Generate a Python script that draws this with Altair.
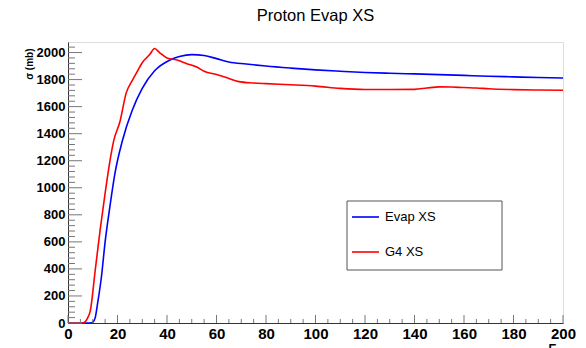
import altair as alt
import pandas as pd

# Evaporation-model cross section (blue)
evap_e = [0, 9, 10, 11, 12, 13.5, 15, 17, 19, 22, 26, 30, 35, 41, 45, 50, 55, 60, 65,
          72, 80, 90, 100, 110, 120, 130, 140, 150, 160, 170, 180, 190, 200]
evap_xs = [0, 0, 5, 40, 150, 340, 600, 870, 1110, 1350, 1575, 1735, 1865, 1943, 1970, 1985,
           1978, 1955, 1930, 1915, 1900, 1885, 1872, 1862, 1853, 1847, 1842, 1837, 1831,
           1825, 1820, 1815, 1812]

# Geant4 cross section (red)
g4_e = [0, 6, 7, 8, 9, 11, 13, 15, 17, 18.5, 21, 23.5, 26, 28, 30, 33, 35, 37, 40, 44, 48,
        52, 55, 60, 64, 69, 75, 80, 90, 100, 110, 120, 130, 140, 145, 150, 155, 160, 165,
        170, 180, 190, 200]
g4_xs = [0, 0, 10, 40, 90, 390, 690, 960, 1205, 1350, 1490, 1700, 1795, 1860, 1925, 1985,
         2030, 2000, 1960, 1945, 1918, 1893, 1862, 1837, 1815, 1785, 1775, 1770, 1762, 1752,
         1735, 1727, 1727, 1728, 1738, 1746, 1745, 1741, 1738, 1732, 1726, 1723, 1721]

series_names = ["Evap XS", "G4 XS"]
series_colors = ["#0000ff", "#ff0000"]

x_major = [0, 20, 40, 60, 80, 100, 120, 140, 160, 180, 200]
x_minor = [v for v in range(0, 201, 5) if v % 20]
y_major = [0, 200, 400, 600, 800, 1000, 1200, 1400, 1600, 1800, 2000]
y_minor = [v for v in range(0, 2041, 40) if v % 200]

W, H = 495, 281
FONT = "Liberation Sans"

df = pd.concat([
    pd.DataFrame({"E": evap_e, "xs": evap_xs, "series": series_names[0], "order": 0}),
    pd.DataFrame({"E": g4_e, "xs": g4_xs, "series": series_names[1], "order": 1}),
])

xscale = alt.Scale(domain=[0, 200], nice=False, zero=False)
yscale = alt.Scale(domain=[0, 2078], nice=False)
cscale = alt.Scale(domain=series_names, range=series_colors)

axis_style = dict(ticks=False, grid=False, labelPadding=3, format="d", labelFlush=False,
                  labelFont=FONT, labelFontWeight="bold", labelColor="black",
                  titleFont=FONT, titleFontWeight="bold", titleColor="black",
                  domainColor="#333", domainWidth=1)
x_axis = alt.Axis(values=x_major, title="E", labelFontSize=15, titleX=488, titleY=20,
                  titleAlign="right", titleBaseline="top", titleFontSize=12, **axis_style)
y_axis = alt.Axis(values=y_major, title="σ (mb)", labelFontSize=13, titleAngle=-90,
                  titleX=-36, titleY=6, titleAlign="right", titleBaseline="alphabetic",
                  titleFontSize=10, **axis_style)

lines = alt.Chart(df).mark_line(strokeWidth=1.6, interpolate="monotone").encode(
    x=alt.X("E:Q", scale=xscale, axis=x_axis),
    y=alt.Y("xs:Q", scale=yscale, axis=y_axis),
    color=alt.Color("series:N", scale=cscale, legend=None),
    detail="series:N",
    order="order:Q",
)

def ticks_x(vals, length):
    return alt.Chart(pd.DataFrame({"v": vals})).mark_rule(color="#777", strokeWidth=1).encode(
        x=alt.X("v:Q", scale=xscale, axis=x_axis),
        y=alt.value(H), y2=alt.value(H - length))

def ticks_y(vals, length):
    return alt.Chart(pd.DataFrame({"v": vals})).mark_rule(color="#777", strokeWidth=1).encode(
        y=alt.Y("v:Q", scale=yscale, axis=y_axis),
        x=alt.value(0), x2=alt.value(length))

# Legend box drawn inside the frame
leg_df = pd.DataFrame({"series": series_names})
box = alt.Chart(pd.DataFrame({"k": [0]})).mark_rect(
    fill="white", stroke="#555", strokeWidth=1).encode(
    x=alt.value(279), x2=alt.value(434), y=alt.value(159), y2=alt.value(228))

leg_layers = [box]
for name, ypos in zip(series_names, [175, 210]):
    sub = alt.Chart(leg_df).transform_filter(alt.datum.series == name)
    leg_layers.append(sub.mark_rule(strokeWidth=1.6).encode(
        x=alt.value(284), x2=alt.value(311), y=alt.value(ypos),
        color=alt.Color("series:N", scale=cscale, legend=None)))
    leg_layers.append(sub.mark_text(align="left", baseline="middle", font=FONT,
                                    fontSize=13, color="black").encode(
        x=alt.value(317), y=alt.value(ypos), text="series:N"))

chart = alt.layer(
    lines,
    ticks_x(x_minor, 4), ticks_x(x_major, 8),
    ticks_y(y_minor, 7), ticks_y(y_major, 14),
    *leg_layers,
).properties(
    width=W, height=H,
    title=alt.TitleParams("Proton Evap XS", anchor="middle", font=FONT, fontSize=16.5,
                          fontWeight="normal", color="black", baseline="alphabetic",
                          frame="group", offset=5),
    autosize=alt.AutoSizeParams(type="none"),
    padding={"left": 68, "top": 42, "right": 23, "bottom": 25},
).configure_view(
    stroke="#666", strokeWidth=1
).configure(background="white")

chart.save("out.html", embed_options={"renderer": "svg", "actions": False})
